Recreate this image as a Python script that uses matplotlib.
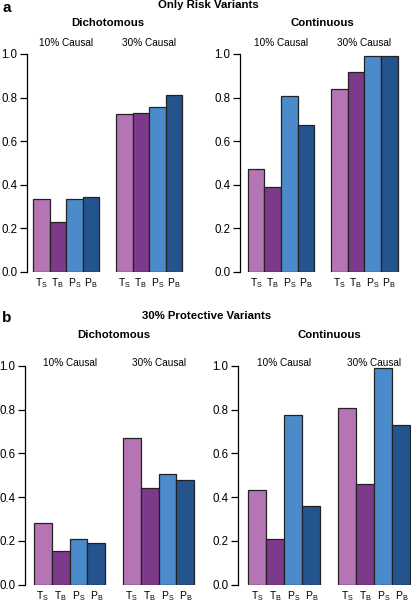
import matplotlib.pyplot as plt
import numpy as np

plt.rcParams['font.family'] = ['Liberation Sans', 'DejaVu Sans']

metodos = ['T_S', 'T_B', 'P_S', 'P_B']
colores = ['#b574b4', '#7d3a8b', '#4b8bcb', '#24548e']
grupos = ['10% Causal', '30% Causal']

# panel a: solo variantes de riesgo
a_dic_10 = [0.333, 0.231, 0.333, 0.343]
a_dic_30 = [0.726, 0.731, 0.755, 0.813]
a_con_10 = [0.471, 0.389, 0.807, 0.676]
a_con_30 = [0.838, 0.919, 0.992, 0.992]

# panel b: 30% variantes protectoras
b_dic_10 = [0.280, 0.155, 0.209, 0.189]
b_dic_30 = [0.671, 0.442, 0.506, 0.477]
b_con_10 = [0.433, 0.210, 0.774, 0.360]
b_con_30 = [0.809, 0.460, 0.991, 0.730]

W, H = 411, 602
fig = plt.figure(figsize=(W / 100, H / 100), dpi=100)


def panel(eje_px, barra0_px, unidad_px, y0_px, y1_px, xmax, v10, v30, titulo, y_tit, y_grp):
    # posiciones en pixeles -> fraccion de figura
    xmin = -(barra0_px - eje_px) / unidad_px
    left = eje_px / W
    width = (xmax - xmin) * unidad_px / W
    bottom = (H - y0_px) / H
    height = (y0_px - y1_px) / H
    ax = fig.add_axes([left, bottom, width, height])
    x = np.array([0, 1, 2, 3, 5, 6, 7, 8])
    vals = list(v10) + list(v30)
    ax.bar(x, vals, width=1.0, align='edge', color=colores * 2,
           edgecolor='#222222', linewidth=0.9)
    ax.set_xlim(xmin, xmax)
    ax.set_ylim(0, 1)
    for s in ['top', 'right', 'bottom']:
        ax.spines[s].set_visible(False)
    ax.spines['left'].set_linewidth(0.9)
    ax.set_yticks([0, 0.2, 0.4, 0.6, 0.8, 1.0])
    ax.set_yticklabels(['0.0', '0.2', '0.4', '0.6', '0.8', '1.0'])
    ax.tick_params(axis='y', length=5, width=0.9, labelsize=8.3, pad=2)
    ax.set_xticks(x + 0.5)
    ax.set_xticklabels([r'$\mathregular{%s}$' % m for m in metodos] * 2)
    ax.tick_params(axis='x', length=0, labelsize=7.5, pad=3)
    ax.patch.set_visible(False)
    centro = (barra0_px + 4.5 * unidad_px) / W
    fig.text(centro, 1 - y_tit / H, titulo, ha='center', va='center',
             fontsize=8.2, fontweight='bold')
    for g, nombre in enumerate(grupos):
        gx = (barra0_px + (2 + 5 * g) * unidad_px) / W
        fig.text(gx, 1 - y_grp / H, nombre, ha='center', va='center', fontsize=7.2)
    return ax


panel(27, 33, 16.6, 272, 54, 9.25, a_dic_10, a_dic_30, 'Dichotomous', 23, 43)
panel(240, 247.7, 16.65, 272, 54, 9.15, a_con_10, a_con_30, 'Continuous', 23, 43)
panel(25, 34, 17.8, 584.7, 366, 9.2, b_dic_10, b_dic_30, 'Dichotomous', 335, 363)
panel(238.3, 248.3, 18.0, 584.7, 366, 9.05, b_con_10, b_con_30, 'Continuous', 335, 363)

fig.text(2 / W, 1 - 8 / H, 'a', fontsize=11, fontweight='bold', ha='left', va='center')
fig.text(208 / W, 1 - 5.5 / H, 'Only Risk Variants', fontsize=8.2, fontweight='bold',
         ha='center', va='center')
fig.text(2 / W, 1 - 318 / H, 'b', fontsize=11, fontweight='bold', ha='left', va='center')
fig.text(207 / W, 1 - 316 / H, '30% Protective Variants', fontsize=8.2, fontweight='bold',
         ha='center', va='center')

fig.savefig('out.png', dpi=100)
